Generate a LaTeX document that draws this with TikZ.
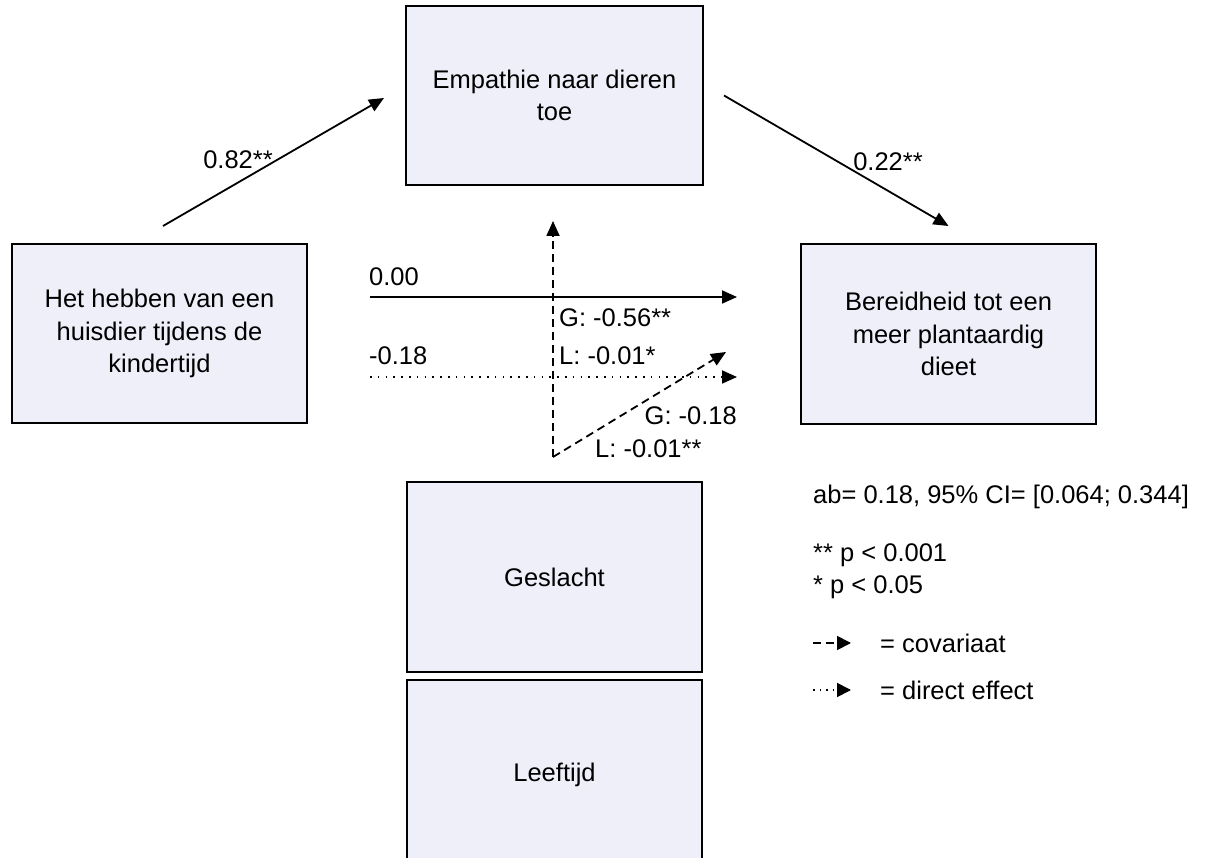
\documentclass[tikz,border=0pt]{standalone}
\usepackage{fontspec}
\setmainfont{Liberation Sans}
\usetikzlibrary{arrows.meta,calc}
\definecolor{boxfill}{RGB}{239,239,249}
\tikzset{
  varbox/.style={draw=black, line width=2pt, fill=boxfill, align=center,
    inner sep=0pt, minimum width=295pt, minimum height=180pt},
  lbl/.style={inner sep=0pt},
  path/.style={line width=1.8pt, -{Triangle[length=15pt,width=13pt]}},
  covpath/.style={path, dash pattern=on 8pt off 5pt},
  dirpath/.style={path, dash pattern=on 1.5pt off 6.3pt},
  keytip/.style={line width=1.8pt, -{Triangle[length=14pt,width=14pt]}},
}
\begin{document}
\begin{tikzpicture}[x=1pt, y=-1pt, font=\fontsize{25.5}{32.5}\selectfont]
\clip (0,0) rectangle (1216,858);
\fill[white] (0,0) rectangle (1216,858);

% variables
\node[varbox, minimum width=297pt, minimum height=179pt] (emp) at (554.5,95.5) {Empathie naar dieren\\toe};
\node[varbox, minimum height=179pt] (het) at (159.5,333.5) {Het hebben van een\\huisdier tijdens de\\kindertijd};
\node[varbox] (ber) at (948.5,334) {Bereidheid tot een\\meer plantaardig\\dieet};
\node[varbox, minimum height=190pt] (ges) at (554.5,577) {Geslacht};
\node[varbox, minimum height=190pt] (lft) at (554.5,775) {Leeftijd};

% free ends of the paths
\coordinate (aS) at ($(het.north)+(3.5,-17)$);
\coordinate (aE) at ($(emp.west)+(-21,2.5)$);
\coordinate (bS) at ($(emp.east)+(20,0)$);
\coordinate (bE) at ($(ber.north)+(0,-17)$);
\coordinate (cS) at ($(het.east)+(62,-36.5)$);
\coordinate (cE) at ($(ber.west)+(-63,-37)$);
\coordinate (dS) at ($(het.east)+(62,43.5)$);
\coordinate (dE) at ($(ber.west)+(-63,43)$);
\coordinate (kS) at ($(ges.north)+(-1.5,-24)$);
\coordinate (kE) at ($(emp.south)+(-1.5,35)$);
\coordinate (kD) at ($(ber.west)+(-74,18)$);

% paths
\draw[path] (aS) -- (aE);
\draw[path] (bS) -- (bE);
\draw[path] (cS) -- (cE);
\draw[dirpath] (dS) -- (dE);
\draw[covpath] (kS) -- (kE);
\draw[covpath] (kS) -- (kD);

% coefficients
\node[lbl] (la) at (238,160) {0.82**};
\node[lbl] (lb) at (888,162) {0.22**};
\node[lbl, anchor=west] (lc) at (369,277) {0.00};
\node[lbl, anchor=west] (ld) at (369,356) {-0.18};
\node[lbl, anchor=west] (lg1) at (559,318) {G: -0.56**};
\node[lbl, anchor=west] (ll1) at (559,356) {L: -0.01*};
\node[lbl, anchor=east] (lg2) at (737,416) {G: -0.18};
\node[lbl, anchor=west] (ll2) at (595,449) {L: -0.01**};

% legend
\node[lbl, anchor=west] (ab) at (813,497) {ab= 0.18, 95\% CI= [0.064; 0.344]};
\node[lbl, anchor=west] (p1) at (813,555) {** p < 0.001};
\node[lbl, anchor=west] (p2) at (813,587) {* p < 0.05};
\coordinate (cov1) at (813,643);
\coordinate (cov2) at (851,643);
\coordinate (dir1) at (813,690);
\coordinate (dir2) at (851,690);
\draw[keytip, dash pattern=on 8pt off 5pt] (cov1) -- (cov2);
\draw[keytip, dash pattern=on 1.5pt off 5pt] (dir1) -- (dir2);
\node[lbl, anchor=west] (cov) at (880,643) {= covariaat};
\node[lbl, anchor=west] (dir) at (880,690) {= direct effect};
\end{tikzpicture}
\end{document}
